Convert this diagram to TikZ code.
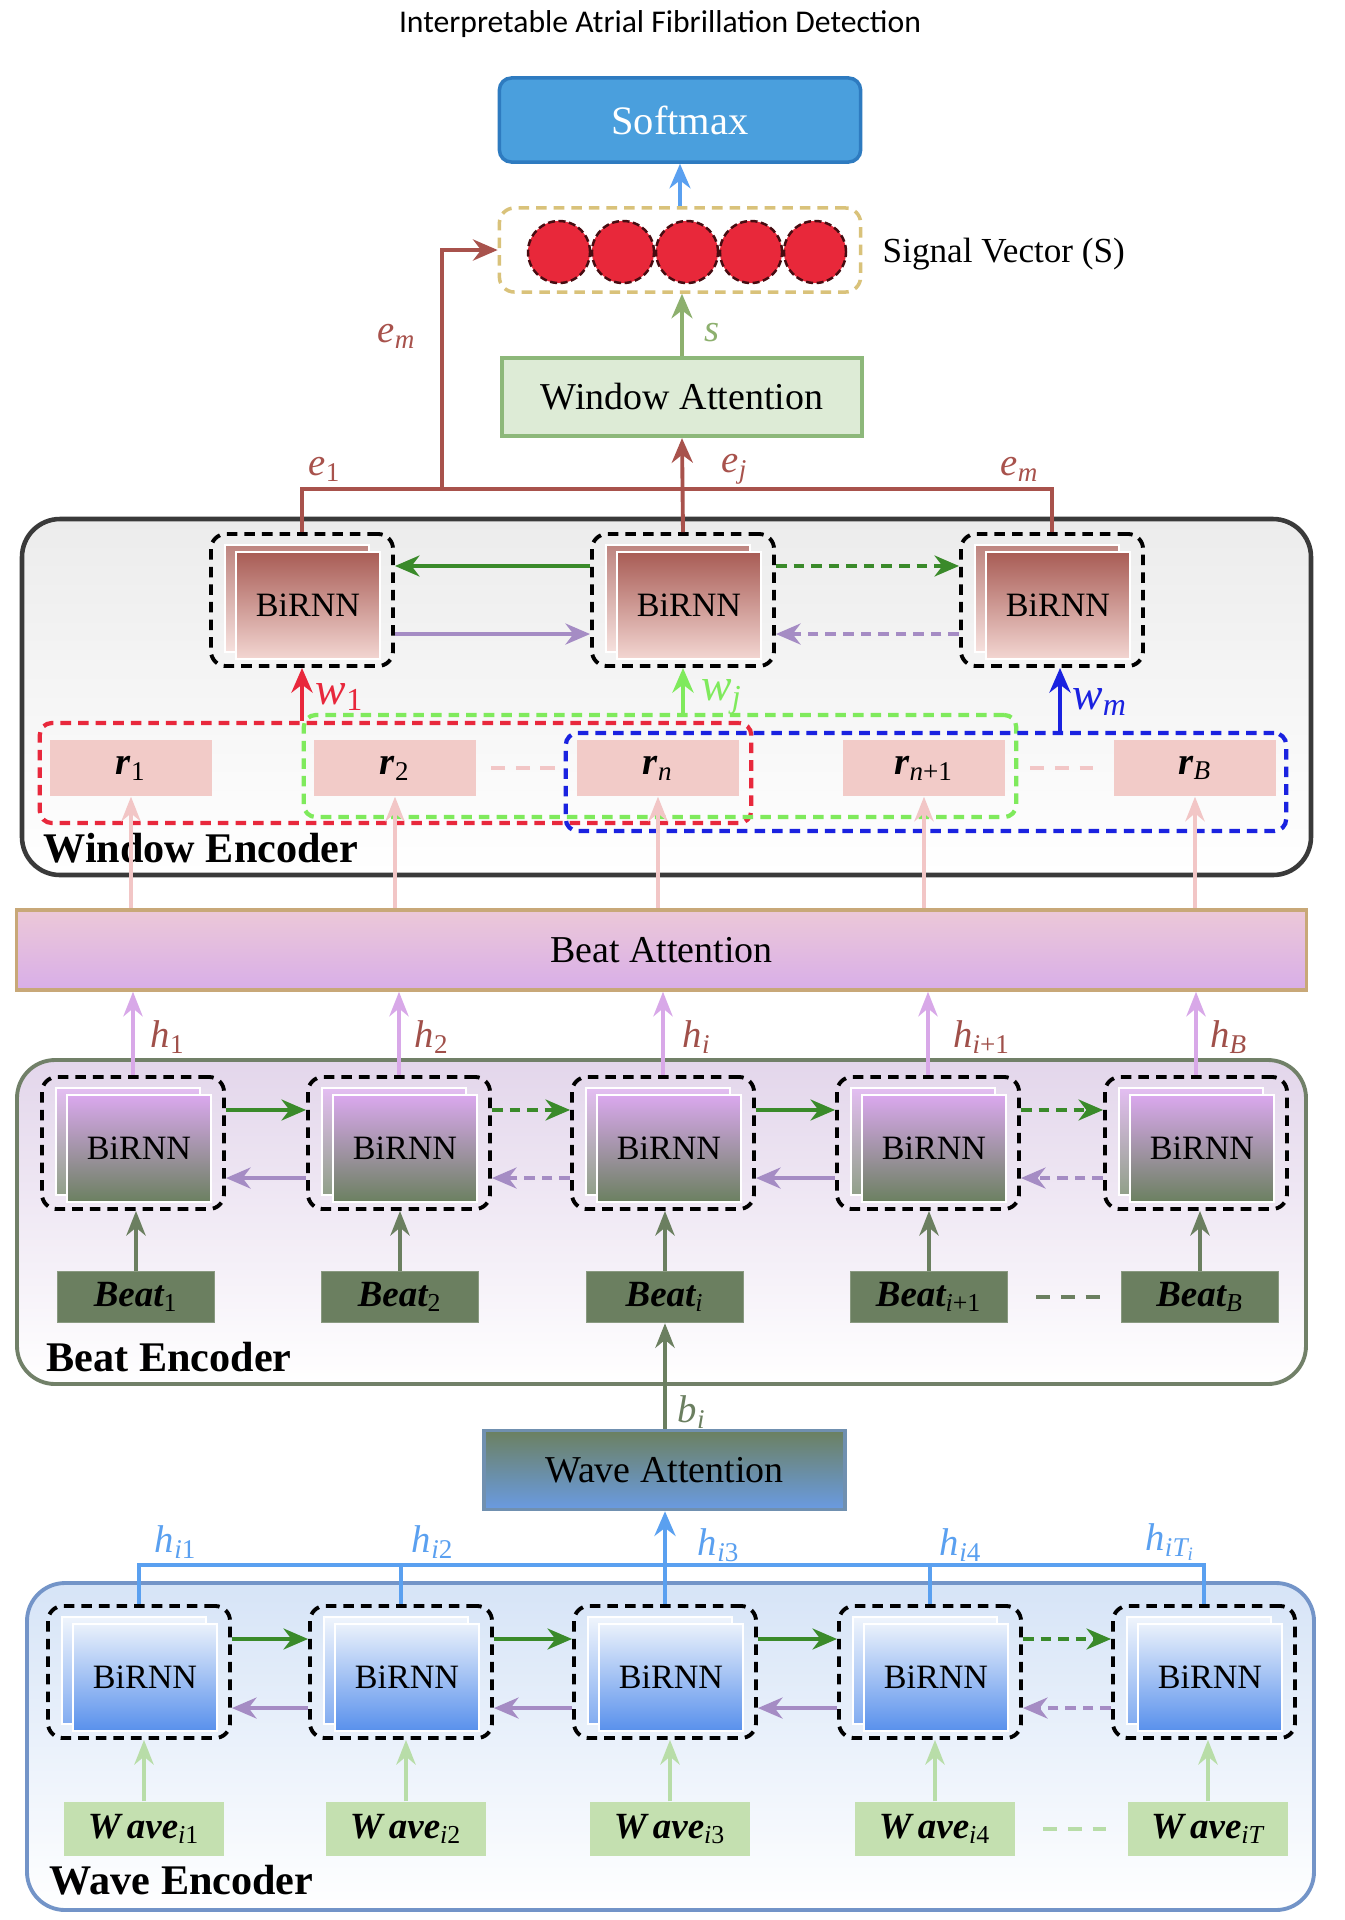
\documentclass[tikz,border=0pt]{standalone}
\usepackage{fontspec}
\setmainfont{Liberation Serif}
\newfontfamily\titlefont{Carlito}
\usetikzlibrary{arrows.meta,calc}
\definecolor{softfill}{HTML}{4A9FDD}
\definecolor{softdraw}{HTML}{2E7BC0}
\definecolor{sigdraw}{HTML}{D9C27A}
\definecolor{dotred}{HTML}{E8283A}
\definecolor{ecol}{HTML}{A8524C}
\definecolor{wattfill}{HTML}{DDEBD6}
\definecolor{wattdraw}{HTML}{8DB87A}
\definecolor{scol}{HTML}{8DB06E}
\definecolor{wetop}{HTML}{ECECEC}
\definecolor{wedraw}{HTML}{3A3A3A}
\definecolor{wintop}{HTML}{A85C55}
\definecolor{winbot}{HTML}{F3D6D2}
\definecolor{fwd}{HTML}{3A8A2A}
\definecolor{bwd}{HTML}{A58CC4}
\definecolor{wred}{HTML}{E8283C}
\definecolor{wgreen}{HTML}{7FEA5C}
\definecolor{wblue}{HTML}{1A22E0}
\definecolor{rfill}{HTML}{F2CBC8}
\definecolor{pinkarr}{HTML}{F2C6C6}
\definecolor{battop}{HTML}{ECC8D8}
\definecolor{batbot}{HTML}{D8AEE8}
\definecolor{batdraw}{HTML}{C8A878}
\definecolor{harr}{HTML}{D8A8E8}
\definecolor{hlab}{HTML}{A0504A}
\definecolor{betop}{HTML}{E3D6EB}
\definecolor{bedraw}{HTML}{718068}
\definecolor{beattop}{HTML}{DAA8EE}
\definecolor{beatbot}{HTML}{6B8060}
\definecolor{beatbox}{HTML}{6B7F60}
\definecolor{vatop}{HTML}{6B8060}
\definecolor{vabot}{HTML}{6A9BE2}
\definecolor{vadraw}{HTML}{7090B0}
\definecolor{bluel}{HTML}{5AA0F0}
\definecolor{wvtop}{HTML}{D6E4F7}
\definecolor{wvdraw}{HTML}{7394C8}
\definecolor{wavetop}{HTML}{EAF1FB}
\definecolor{wavebot}{HTML}{5890EC}
\definecolor{wavebox}{HTML}{C4E0B0}
\definecolor{wavearr}{HTML}{B8DDA8}
\newcommand\setfs[1]{\fontsize{#1}{#1}\selectfont}
\newcommand\BiUnit[5]{%
  \node[unitrect, top color=#4!75!white, bottom color=#5!75!white] (#1b) at (#2-5,#3-1.5) {};
  \node[unitrect, top color=#4, bottom color=#5] (#1f) at (#2+6,#3+5.5) {BiRNN};
  \node[unitbox] (#1) at (#2,#3) {};
}
\tikzset{
  arr/.style={-{Stealth[length=7pt,width=6pt]}, line width=0.9pt},
  tarr/.style={-{Stealth[length=7pt,width=5.5pt]}, line width=0.6pt},
  unitbox/.style={draw=black, line width=1.1pt, dash pattern=on 3pt off 2pt, rounded corners=0.15cm, minimum width=1.82cm, minimum height=1.32cm, inner sep=0},
  unitrect/.style={draw=white, line width=0.5pt, minimum width=1.44cm, minimum height=1.07cm, inner sep=0, font=\setfs{9.7pt}},
  labl/.style={font=\setfs{11pt}\itshape, inner sep=0},
  encl/.style={font=\setfs{12pt}\bfseries, anchor=west, inner sep=0},
  rbox/.style={fill=rfill, minimum width=1.61cm, minimum height=0.56cm, inner sep=0, font=\setfs{11pt}},
  beatb/.style={fill=beatbox, draw=beatbox!80!white, minimum width=1.57cm, minimum height=0.51cm, inner sep=0, font=\setfs{10.5pt}\bfseries\itshape},
  waveb/.style={fill=wavebox, minimum width=1.59cm, minimum height=0.54cm, inner sep=0, font=\setfs{10.5pt}\bfseries\itshape},
  dotc/.style={circle, fill=dotred, draw=black!70!dotred, line width=0.7pt, dash pattern=on 2pt off 1pt, minimum size=0.62cm, inner sep=0},
  gap/.style={line width=1pt, dash pattern=on 4pt off 3pt},
}
\begin{document}
\begin{tikzpicture}[x=0.01cm,y=-0.01cm]
\useasboundingbox (0,0) rectangle (1345,1920);
\fill[white] (0,0) rectangle (1345,1920);
% title
\node[font=\titlefont\setfs{9pt}] (title) at (660,24) {Interpretable Atrial Fibrillation Detection};
% containers
\draw[draw=wedraw, line width=1.3pt, rounded corners=0.38cm, top color=wetop, bottom color=white] (22,519) rectangle (1311,875);
\draw[draw=bedraw, line width=1.1pt, rounded corners=0.38cm, top color=betop, bottom color=white] (17,1060) rectangle (1306,1384);
\draw[draw=wvdraw, line width=1.1pt, rounded corners=0.38cm, top color=wvtop, bottom color=white] (27,1583) rectangle (1314,1910);
% top
\node[fill=softfill, draw=softdraw, line width=1pt, rounded corners=0.12cm, minimum width=3.61cm, minimum height=0.84cm, font=\setfs{11.5pt}, text=white] (soft) at (680,120) {Softmax};
\node[draw=sigdraw, line width=1pt, dash pattern=on 3pt off 2pt, rounded corners=0.15cm, minimum width=3.61cm, minimum height=0.84cm] (sig) at (680,250) {};
\foreach \i/\x in {1/559,2/623,3/687,4/751,5/815}{\node[dotc] (c\i) at (\x,252) {};}
\node[anchor=west, font=\setfs{10pt}, inner sep=0] (sigl) at (882,254) {Signal Vector (S)};
\draw[arr, bluel] (sig.north) -- (soft.south);
\node[fill=wattfill, draw=wattdraw, line width=1.2pt, minimum width=3.6cm, minimum height=0.78cm, font=\setfs{10.8pt}] (watt) at (682,397) {Window Attention};
\draw[arr, scol] (watt.north) -- (watt.north |- sig.south);
\node[labl, text=scol] (sl) at (712,333) {s};
% window units
\BiUnit{wu1}{302}{600}{wintop}{winbot}
\BiUnit{wu2}{683}{600}{wintop}{winbot}
\BiUnit{wu3}{1052}{600}{wintop}{winbot}
\draw[arr, fwd] ([yshift=0.34cm]wu2.west) -- ([yshift=0.34cm]wu1.east);
\draw[arr, bwd] ([yshift=-0.34cm]wu1.east) -- ([yshift=-0.34cm]wu2.west);
\draw[arr, fwd, dash pattern=on 3pt off 2pt] ([yshift=0.34cm]wu2.east) -- ([yshift=0.34cm]wu3.west);
\draw[arr, bwd, dash pattern=on 3pt off 2pt] ([yshift=-0.34cm]wu3.west) -- ([yshift=-0.34cm]wu2.east);
% e connectors
\coordinate (ebar) at (0,489);
\coordinate (emx) at (442,489);
\draw[ecol, line width=1.1pt] (wu1.north) -- (wu1.north |- ebar) -- (wu3.north |- ebar) -- (wu3.north);
\draw[arr, ecol, line width=1.1pt] (wu2.north) -- (watt.south);
\draw[arr, ecol, line width=1.1pt] (emx) |- (sig.west);
\node[labl, text=ecol] (e1) at (325,469) {e\textsubscript{\upshape 1}};
\node[labl, text=ecol] (ej) at (735,469) {e\textsubscript{j}};
\node[labl, text=ecol] (em) at (1020,469) {e\textsubscript{m}};
\node[labl, text=ecol] (em2) at (397,336) {e\textsubscript{m}};
% r boxes and windows
\node[rbox] (r1) at (131,768) {\textbf{\textit{r}}\textsubscript{1}};
\node[rbox] (r2) at (395,768) {\textbf{\textit{r}}\textsubscript{2}};
\node[rbox] (r3) at (658,768) {\textbf{\textit{r}}\textsubscript{\textit{n}}};
\node[rbox] (r4) at (924,768) {\textbf{\textit{r}}\textsubscript{\textit{n}+1}};
\node[rbox] (r5) at (1195,768) {\textbf{\textit{r}}\textsubscript{\textit{B}}};
\draw[pinkarr, gap, shorten <=0.15cm, shorten >=0.21cm] (r2.east) -- (r3.west);
\draw[pinkarr, gap, shorten <=0.25cm, shorten >=0.21cm] (r4.east) -- (r5.west);
\node[draw=wred, line width=1.2pt, dash pattern=on 3pt off 2pt, rounded corners=0.12cm, minimum width=7.11cm, minimum height=1.0cm] (winR) at (395.5,773) {};
\node[draw=wgreen, line width=1.2pt, dash pattern=on 3pt off 2pt, rounded corners=0.12cm, minimum width=7.12cm, minimum height=1.02cm] (winG) at (660,766) {};
\node[draw=wblue, line width=1.2pt, dash pattern=on 3pt off 2pt, rounded corners=0.12cm, minimum width=7.2cm, minimum height=0.98cm] (winB) at (926,782) {};
\draw[arr, wred, line width=1.2pt] (wu1.south |- winR.north) -- (wu1.south);
\draw[arr, wgreen, line width=1.2pt] (wu2.south |- winG.north) -- (wu2.south);
\draw[arr, wblue, line width=1.2pt] ([xshift=0.08cm]wu3.south |- winB.north) -- ([xshift=0.08cm]wu3.south);
\node[labl, text=wred, font=\setfs{13pt}\itshape] (w1l) at (340,697) {w\textsubscript{\upshape 1}};
\node[labl, text=wgreen, font=\setfs{13pt}\itshape] (wjl) at (722,697) {w\textsubscript{j}};
\node[labl, text=wblue, font=\setfs{13pt}\itshape] (wml) at (1100,702) {w\textsubscript{m}};
\node[encl] (wenc) at (43,848) {Window Encoder};
% beat attention
\node[top color=battop, bottom color=batbot, draw=batdraw, line width=1pt, minimum width=12.89cm, minimum height=0.8cm, font=\setfs{10.8pt}] (batt) at (661.5,950) {Beat Attention};
\foreach \i in {1,...,5}{\draw[tarr, pinkarr, line width=1pt] (r\i.south |- batt.north) -- (r\i.south);}
% beat units
\BiUnit{bu1}{133}{1143}{beattop}{beatbot}
\BiUnit{bu2}{399}{1143}{beattop}{beatbot}
\BiUnit{bu3}{663}{1143}{beattop}{beatbot}
\BiUnit{bu4}{928}{1143}{beattop}{beatbot}
\BiUnit{bu5}{1196}{1143}{beattop}{beatbot}
\draw[arr, fwd] ([yshift=0.33cm]bu1.east) -- ([yshift=0.33cm]bu2.west);
\draw[arr, fwd, dash pattern=on 3pt off 2pt] ([yshift=0.33cm]bu2.east) -- ([yshift=0.33cm]bu3.west);
\draw[arr, fwd] ([yshift=0.33cm]bu3.east) -- ([yshift=0.33cm]bu4.west);
\draw[arr, fwd, dash pattern=on 3pt off 2pt] ([yshift=0.33cm]bu4.east) -- ([yshift=0.33cm]bu5.west);
\draw[arr, bwd] ([yshift=-0.35cm]bu2.west) -- ([yshift=-0.35cm]bu1.east);
\draw[arr, bwd, dash pattern=on 3pt off 2pt] ([yshift=-0.35cm]bu3.west) -- ([yshift=-0.35cm]bu2.east);
\draw[arr, bwd] ([yshift=-0.35cm]bu4.west) -- ([yshift=-0.35cm]bu3.east);
\draw[arr, bwd, dash pattern=on 3pt off 2pt] ([yshift=-0.35cm]bu5.west) -- ([yshift=-0.35cm]bu4.east);
\foreach \i in {1,...,5}{\draw[tarr, harr, line width=1pt] (bu\i.north) -- (bu\i.north |- batt.south);}
\node[labl, text=hlab] (h1) at (168,1037) {h\textsubscript{\upshape 1}};
\node[labl, text=hlab] (h2) at (432,1037) {h\textsubscript{\upshape 2}};
\node[labl, text=hlab] (hi) at (697,1037) {h\textsubscript{i}};
\node[labl, text=hlab] (hi1) at (982,1037) {h\textsubscript{i\upshape +1}};
\node[labl, text=hlab] (hB) at (1229,1037) {h\textsubscript{B}};
% beat boxes
\node[beatb] (b1) at (136,1297) {Beat\textsubscript{\upshape\mdseries 1}};
\node[beatb] (b2) at (400,1297) {Beat\textsubscript{\upshape\mdseries 2}};
\node[beatb] (b3) at (665,1297) {Beat\textsubscript{\mdseries i}};
\node[beatb] (b4) at (929,1297) {Beat\textsubscript{\mdseries i\upshape+1}};
\node[beatb] (b5) at (1200,1297) {Beat\textsubscript{\mdseries B}};
\draw[beatbox, gap, shorten <=0.28cm, shorten >=0.2cm] (b4.east) -- (b5.west);
\foreach \i in {1,...,5}{\draw[tarr, beatbox, line width=1.1pt] (b\i.north) -- (b\i.north |- bu\i.south);}
\node[encl] (benc) at (46,1357) {Beat Encoder};
% wave attention
\node[top color=vatop, bottom color=vabot, draw=vadraw, line width=1pt, minimum width=3.61cm, minimum height=0.79cm, font=\setfs{10.8pt}] (vatt) at (664.5,1470) {Wave Attention};
\draw[tarr, beatbox, line width=1.1pt] (vatt.north -| b3.south) -- (b3.south);
\node[labl, text=beatbox] (bil) at (692,1412) {b\textsubscript{i}};
% wave units
\BiUnit{vu1}{139}{1672}{wavetop}{wavebot}
\BiUnit{vu2}{401}{1672}{wavetop}{wavebot}
\BiUnit{vu3}{665}{1672}{wavetop}{wavebot}
\BiUnit{vu4}{930}{1672}{wavetop}{wavebot}
\BiUnit{vu5}{1204}{1672}{wavetop}{wavebot}
\draw[arr, fwd] ([yshift=0.33cm]vu1.east) -- ([yshift=0.33cm]vu2.west);
\draw[arr, fwd] ([yshift=0.33cm]vu2.east) -- ([yshift=0.33cm]vu3.west);
\draw[arr, fwd] ([yshift=0.33cm]vu3.east) -- ([yshift=0.33cm]vu4.west);
\draw[arr, fwd, dash pattern=on 3pt off 2pt] ([yshift=0.33cm]vu4.east) -- ([yshift=0.33cm]vu5.west);
\draw[arr, bwd] ([yshift=-0.36cm]vu2.west) -- ([yshift=-0.36cm]vu1.east);
\draw[arr, bwd] ([yshift=-0.36cm]vu3.west) -- ([yshift=-0.36cm]vu2.east);
\draw[arr, bwd] ([yshift=-0.36cm]vu4.west) -- ([yshift=-0.36cm]vu3.east);
\draw[arr, bwd, dash pattern=on 3pt off 2pt] ([yshift=-0.36cm]vu5.west) -- ([yshift=-0.36cm]vu4.east);
\coordinate (hbar) at (0,1565);
\draw[bluel, line width=1.1pt] (vu1.north) -- (vu1.north |- hbar) -- (vu5.north |- hbar) -- (vu5.north);
\draw[bluel, line width=1.1pt] (vu2.north) -- (vu2.north |- hbar);
\draw[bluel, line width=1.1pt] (vu4.north) -- (vu4.north |- hbar);
\draw[arr, bluel, line width=1.1pt] (vu3.north) -- (vu3.north |- vatt.south);
\node[labl, text=bluel] (hw1) at (176,1542) {h\textsubscript{i\upshape 1}};
\node[labl, text=bluel] (hw2) at (433,1542) {h\textsubscript{i\upshape 2}};
\node[labl, text=bluel] (hw3) at (719,1545) {h\textsubscript{i\upshape 3}};
\node[labl, text=bluel] (hw4) at (961,1545) {h\textsubscript{i\upshape 4}};
\node[labl, text=bluel] (hw5) at (1171,1542) {h\textsubscript{iT\textsubscript{i}}};
% wave boxes
\node[waveb] (v1) at (144,1829) {W\,ave\textsubscript{\mdseries i\upshape 1}};
\node[waveb] (v2) at (406,1829) {W\,ave\textsubscript{\mdseries i\upshape 2}};
\node[waveb] (v3) at (670,1829) {W\,ave\textsubscript{\mdseries i\upshape 3}};
\node[waveb] (v4) at (935,1829) {W\,ave\textsubscript{\mdseries i\upshape 4}};
\node[waveb] (v5) at (1208,1829) {W\,ave\textsubscript{\mdseries iT}};
\draw[wavearr, gap, shorten <=0.28cm, shorten >=0.22cm] (v4.east) -- (v5.west);
\foreach \i in {1,...,5}{\draw[tarr, wavearr, line width=1.1pt] (v\i.north) -- (v\i.north |- vu\i.south);}
\node[encl] (venc) at (49,1880) {Wave Encoder};
\end{tikzpicture}
\end{document}
